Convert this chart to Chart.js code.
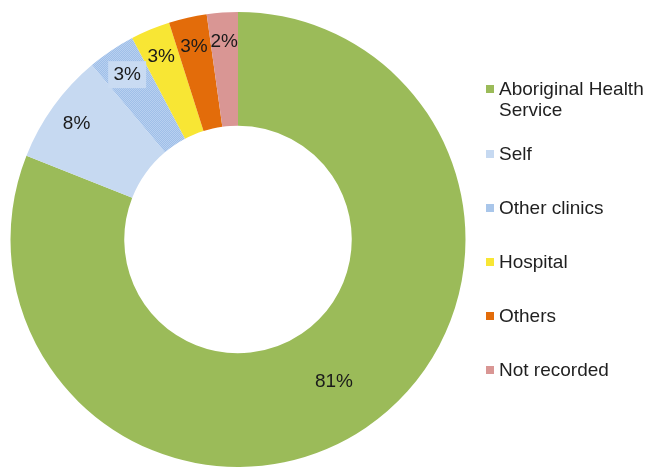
<!DOCTYPE html>
<html>
<head>
<meta charset="utf-8">
<script src="https://cdn.jsdelivr.net/npm/chart.js@4"></script>
<style>
  html, body { margin: 0; padding: 0; background: #fff; }
  #wrap { position: relative; width: 646px; height: 467px; font-family: "Liberation Sans", Arial, sans-serif; }
  #referral-chart { position: absolute; left: 0; top: 0; }
  #legend { position: absolute; left: 486px; top: 72px; margin: 0; padding: 0; list-style: none; }
  #legend li { height: 54px; display: flex; align-items: center; }
  #legend .item { display: flex; align-items: flex-start; }
  #legend .box { width: 8px; height: 8px; margin-top: 7px; margin-right: 5px; flex: none; }
  #legend .text { font-size: 19px; line-height: 21px; color: #1f1f1f; width: 150px; }
</style>
</head>
<body>
<div id="wrap">
  <canvas id="referral-chart" width="646" height="467"></canvas>
  <ul id="legend"></ul>
</div>
<script>
// дані
const categories = ['Aboriginal Health Service', 'Self', 'Other clinics', 'Hospital', 'Others', 'Not recorded'];
const shares = [81.0, 7.9, 3.4, 2.8, 2.7, 2.2];
const shareLabels = ['81%', '8%', '3%', '3%', '3%', '2%'];
const colors = ['#9bbb59', '#c6d9f1', '#a9c6ea', '#f8e634', '#e36c0a', '#d99694'];

// дрібний візерунок для "Other clinics"
function dotPattern() {
  const c = document.createElement('canvas');
  c.width = 2; c.height = 2;
  const g = c.getContext('2d');
  g.fillStyle = '#9fbfe8';
  g.fillRect(0, 0, 2, 2);
  g.fillStyle = '#b8d0f0';
  g.fillRect(0, 0, 1, 1);
  g.fillRect(1, 1, 1, 1);
  return g.createPattern(c, 'repeat');
}
const fills = colors.slice();
fills[2] = dotPattern();

// підписи на сегментах
const sliceLabels = {
  id: 'sliceLabels',
  afterDatasetsDraw(chart) {
    const ctx = chart.ctx;
    const meta = chart.getDatasetMeta(0);
    ctx.save();
    ctx.font = '19px "Liberation Sans", Arial, sans-serif';
    ctx.textAlign = 'center';
    ctx.textBaseline = 'middle';
    meta.data.forEach((arc, i) => {
      const p = arc.getProps(['x', 'y', 'startAngle', 'endAngle', 'innerRadius', 'outerRadius'], true);
      const mid = (p.startAngle + p.endAngle) / 2;
      const f = shares[i] > 50 ? 0.5 : 0.75;
      const r = p.innerRadius + (p.outerRadius - p.innerRadius) * f;
      const x = p.x + Math.cos(mid) * r;
      const y = p.y + Math.sin(mid) * r;
      if (i === 2) {
        ctx.fillStyle = '#c9dbf2';
        ctx.fillRect(x - 19, y - 13, 38, 27);
      }
      ctx.fillStyle = '#1a1a1a';
      ctx.fillText(shareLabels[i], x, y + 1);
    });
    ctx.restore();
  }
};

const ctx = document.getElementById('referral-chart').getContext('2d');
new Chart(ctx, {
  type: 'doughnut',
  data: {
    labels: categories,
    datasets: [{
      data: shares,
      backgroundColor: fills,
      borderWidth: 0
    }]
  },
  options: {
    responsive: false,
    animation: false,
    cutout: '50%',
    layout: { padding: { left: 10, top: 12, right: 180, bottom: 0 } },
    plugins: {
      legend: { display: false },
      tooltip: { enabled: false }
    }
  },
  plugins: [sliceLabels]
});

// легенда
const legend = document.getElementById('legend');
categories.forEach((name, i) => {
  const li = document.createElement('li');
  li.innerHTML = '<div class="item"><span class="box" style="background:' + colors[i] + '"></span><span class="text">' + name + '</span></div>';
  legend.appendChild(li);
});
</script>
</body>
</html>
